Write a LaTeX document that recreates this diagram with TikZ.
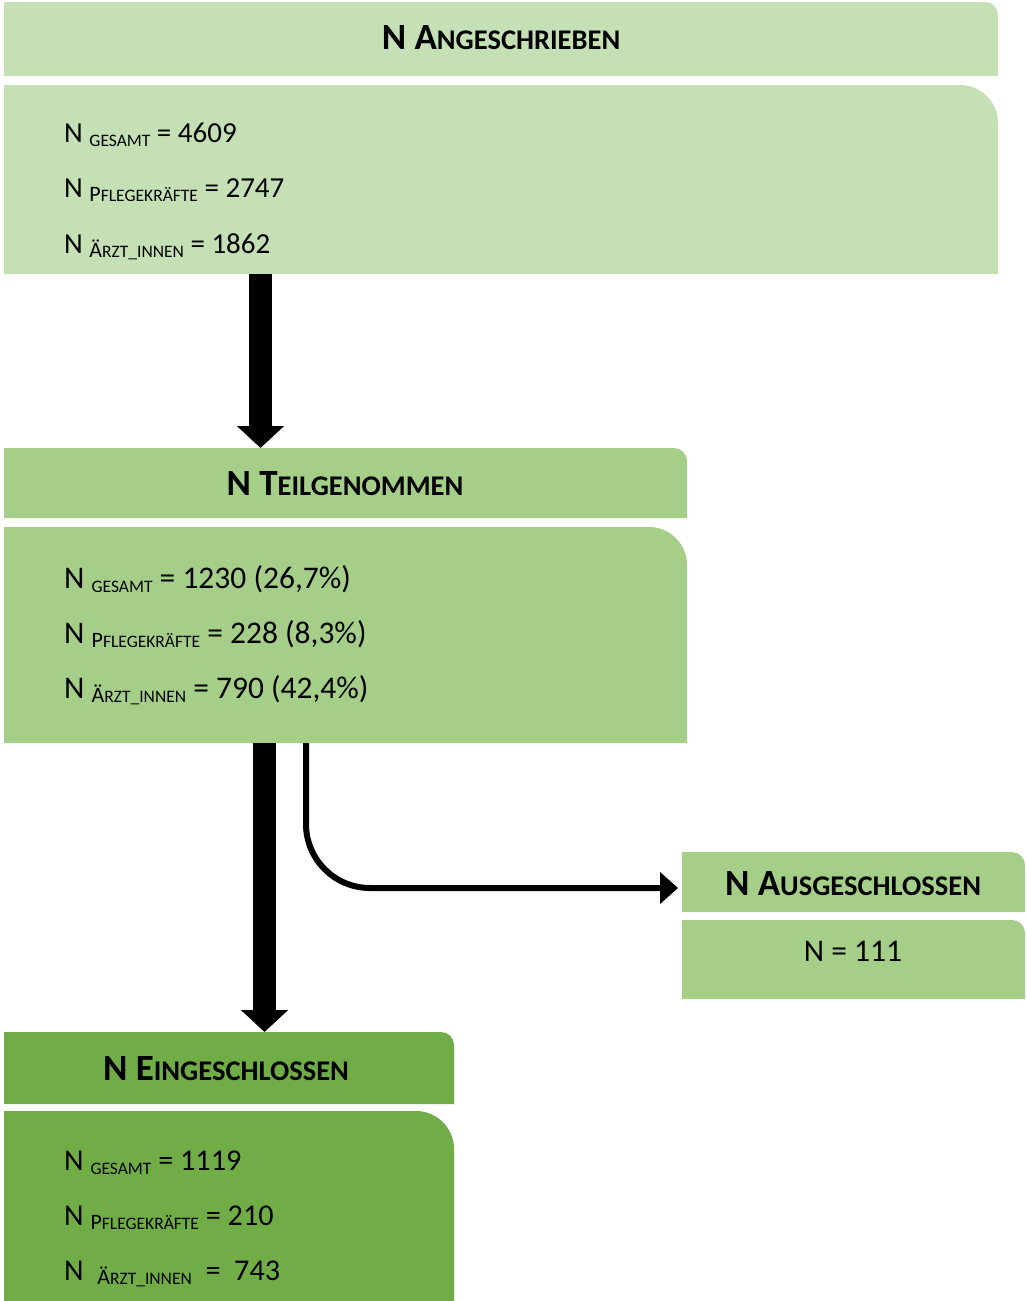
\documentclass[tikz,border=0pt]{standalone}
\usepackage{fontspec}
\setmainfont{Carlito}
\usetikzlibrary{arrows.meta,calc}
\definecolor{gA}{HTML}{C5E0B4}
\definecolor{gB}{HTML}{A5CF88}
\definecolor{gC}{HTML}{70AD47}
\newcommand\gbox[7]{%
  \fill[#7] (#2,#5) -- (#2,#3) -- ({#4-#6},#3) .. controls ({#4-0.448*#6},#3) and (#4,{#3+0.448*#6}) .. (#4,{#3+#6}) -- (#4,#5) -- cycle;
  \node[inner sep=0pt,outer sep=0pt,minimum width={#4-#2},minimum height={#5-#3}] (#1) at ({(#2+#4)/2},{(#3+#5)/2}) {};}
\newcommand\ttl[2]{\textbf{\fontsize{37}{37}\selectfont N #1\fontsize{28.5}{28.5}\selectfont #2}}
\newcommand\sbs[2]{\raisebox{-4pt}{\fontsize{22}{22}\selectfont #1\fontsize{17.5}{17.5}\selectfont #2}}
\tikzset{
  bodytxt/.style={anchor=base west,inner sep=0pt,font=\fontsize{29}{29}\selectfont},
  bodytxtb/.style={bodytxt,font=\fontsize{31.5}{31.5}\selectfont},
  bodytxtc/.style={bodytxt,font=\fontsize{30.2}{30.2}\selectfont},
  ttltxt/.style={anchor=base,inner sep=0pt},
  bigarrow/.style={line width=23pt,-{Triangle[width=46pt,length=22pt]}},
  thinarrow/.style={line width=6pt,-{Triangle[width=31pt,length=18pt]}},
}
\begin{document}
\begin{tikzpicture}[x=1pt,y=-1pt]
\useasboundingbox (0,0) rectangle (1026,1301);
% boxes
\gbox{t1}{4}{2}{998}{76}{13}{gA}
\gbox{b1}{4}{85}{998}{274}{38}{gA}
\gbox{t2}{4}{448}{687}{518}{13}{gB}
\gbox{b2}{4}{527}{687}{743}{38}{gB}
\gbox{t3}{682}{852}{1025}{912}{13}{gB}
\gbox{b3}{682}{920}{1025}{999}{13}{gB}
\gbox{t4}{4}{1032}{454}{1104}{13}{gC}
\gbox{b4}{4}{1111}{454}{1301}{38}{gC}
% titles
\node[ttltxt] (tt1) at (501,49) {\ttl{A}{NGESCHRIEBEN}};
\node[ttltxt] (tt2) at (345,495) {\ttl{T}{EILGENOMMEN}};
\node[ttltxt] (tt3) at (853,895) {\ttl{A}{USGESCHLOSSEN}};
\node[ttltxt] (tt4) at (226,1080) {\ttl{E}{INGESCHLOSSEN}};
% body texts
\node[bodytxt] (l11) at (64,142) {N \sbs{}{GESAMT} = 4609};
\node[bodytxt] (l12) at (64,197) {N \sbs{P}{FLEGEKRÄFTE} = 2747};
\node[bodytxt] (l13) at (64,253) {N \sbs{Ä}{RZT\_INNEN} = 1862};
\node[bodytxtb] (l21) at (64,588) {N \sbs{}{GESAMT} = 1230 (26,7\%)};
\node[bodytxtb] (l22) at (64,643) {N \sbs{P}{FLEGEKRÄFTE} = 228 (8,3\%)};
\node[bodytxtb] (l23) at (64,698) {N \sbs{Ä}{RZT\_INNEN} = 790 (42,4\%)};
\node[bodytxtb,anchor=base] (l31) at (853,961) {N = 111};
\node[bodytxtc] (l41) at (64,1170) {N \sbs{}{GESAMT} = 1119};
\node[bodytxtc] (l42) at (64,1225) {N \sbs{P}{FLEGEKRÄFTE} = 210};
\node[bodytxtc] (l43) at (64,1280) {N \ \sbs{Ä}{RZT\_INNEN} \ = \ 743};
% connectors
\draw[bigarrow] ($(b1.south west)+(256.5,0)$) -- ($(t2.north west)+(256.5,0)$);
\draw[bigarrow] ($(b2.south west)+(260.5,0)$) -- ($(t4.north west)+(260.5,0)$);
\coordinate (tend) at ($(t3.west)+(-4,6)$);
\draw[thinarrow,rounded corners=64pt] ($(b2.south west)+(302,0)$) |- (tend);
\end{tikzpicture}
\end{document}
